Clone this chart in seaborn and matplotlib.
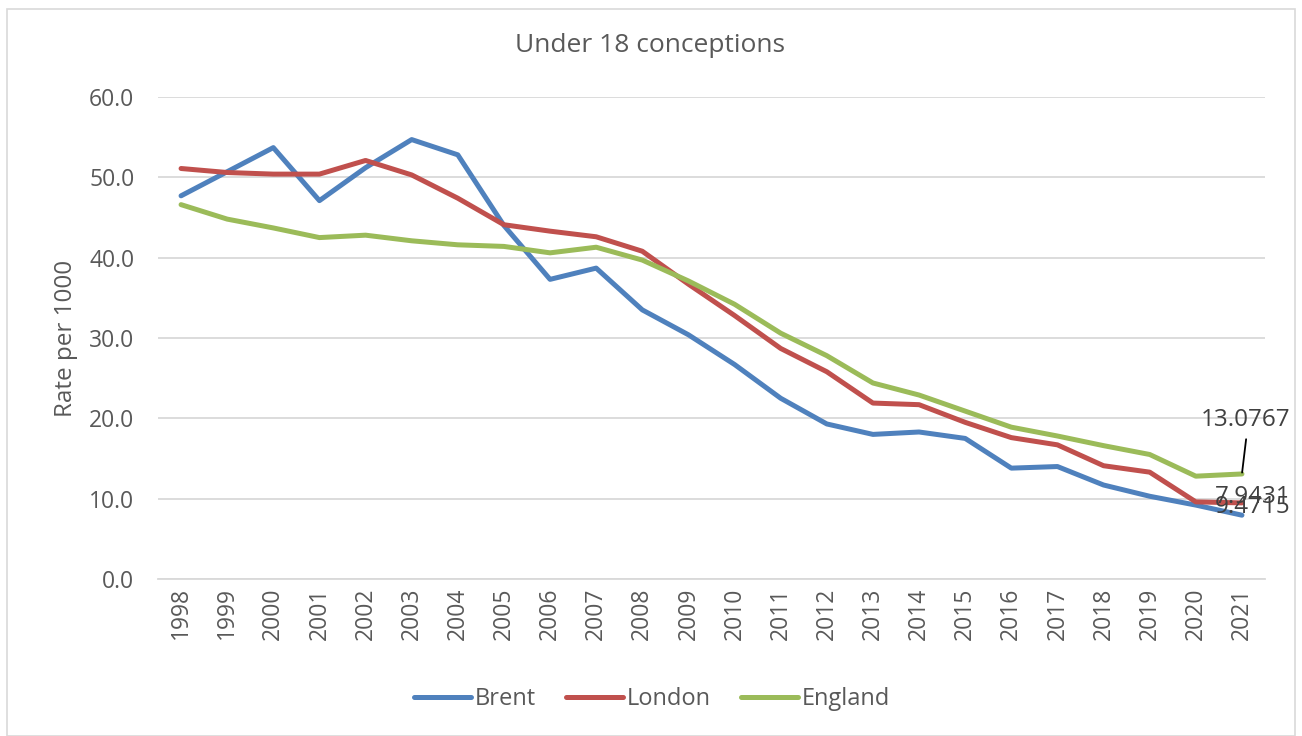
import matplotlib
matplotlib.use("Agg")
import matplotlib.pyplot as plt
from matplotlib.patches import Rectangle
import seaborn as sns
import pandas as pd

years = list(range(1998, 2022))
brent = [47.7, 50.7, 53.7, 47.1, 51.2, 54.7, 52.8, 44.0, 37.3, 38.7, 33.5, 30.4,
         26.7, 22.5, 19.3, 18.0, 18.3, 17.5, 13.8, 14.0, 11.7, 10.3, 9.2, 7.9431]
london = [51.1, 50.6, 50.4, 50.4, 52.1, 50.3, 47.4, 44.1, 43.3, 42.6, 40.8, 36.7,
          32.8, 28.7, 25.8, 21.9, 21.7, 19.5, 17.6, 16.7, 14.1, 13.3, 9.6, 9.4715]
england = [46.6, 44.8, 43.7, 42.5, 42.8, 42.1, 41.6, 41.4, 40.6, 41.3, 39.7, 37.1,
           34.2, 30.6, 27.8, 24.4, 22.9, 20.9, 18.9, 17.8, 16.6, 15.5, 12.8, 13.0767]
series_names = ["Brent", "London", "England"]
colors = ["#4F81BD", "#C0504D", "#9BBB59"]

rows = []
for name, vals in zip(series_names, [brent, london, england]):
    for i, (y, v) in enumerate(zip(years, vals)):
        rows.append({"idx": i, "year": str(y), "value": v, "Area": name})
df = pd.DataFrame(rows)

sns.set_style("white")
plt.rcParams['font.family'] = ['Open Sans', 'DejaVu Sans']
txt = "#595959"

fig = plt.figure(figsize=(13.02, 7.36), dpi=100)
ax = fig.add_axes([158/1302, 1 - 579/736, (1265 - 158)/1302, (579 - 97)/736])

sns.lineplot(data=df, x="idx", y="value", hue="Area", palette=colors,
             hue_order=series_names, linewidth=3.6, ax=ax, legend=False,
             solid_capstyle="round")

ax.set_xlim(-0.5, len(years) - 0.5)
ax.set_ylim(0, 60)
ax.set_yticks(range(0, 61, 10))
ax.set_yticklabels([f"{v:.1f}" for v in range(0, 61, 10)], fontsize=16.5, color=txt)
ax.set_xticks(range(len(years)))
ax.set_xticklabels([str(y) for y in years], rotation=90, fontsize=16.5, color=txt)
ax.tick_params(axis="y", length=0, pad=17)
ax.tick_params(axis="x", length=0, pad=6)
ax.grid(axis="y", color="#D9D9D9", linewidth=1.3)
ax.set_axisbelow(True)
for s in ["top", "right", "left"]:
    ax.spines[s].set_visible(False)
ax.spines["bottom"].set_color("#D9D9D9")
ax.spines["bottom"].set_linewidth(1.3)
ax.set_xlabel("")
ax.set_ylabel("Rate per 1000", fontsize=17.5, color=txt, labelpad=8)

fig.text(650/1302, 1 - 45/736, "Under 18 conceptions", ha="center", va="center",
         fontsize=19, color=txt)

last = len(years) - 1
# leader line for the England label
ax.annotate("", xy=(last, england[-1]), xytext=(3, 25),
            textcoords="offset points",
            arrowprops=dict(arrowstyle="-", color="black", lw=1.3,
                            shrinkA=0, shrinkB=1))
ax.annotate(f"{england[-1]:.4f}", xy=(last, england[-1]), xytext=(3, 39),
            textcoords="offset points", ha="center", va="center",
            fontsize=17.5, color="#404040")
ax.annotate(f"{brent[-1]:.4f}", xy=(last, brent[-1]), xytext=(8, 13),
            textcoords="offset points", ha="center", va="center",
            fontsize=17.5, color="#404040")
ax.annotate(f"{london[-1]:.4f}", xy=(last, london[-1]), xytext=(8, -3),
            textcoords="offset points", ha="center", va="center",
            fontsize=17.5, color="#404040")

handles = [plt.Line2D([0], [0], color=c, lw=3.6, solid_capstyle="round") for c in colors]
leg = fig.legend(handles, series_names, loc="center", bbox_to_anchor=(652/1302, 1 - 699/736),
                 ncol=3, frameon=False, fontsize=17, handlelength=2.4,
                 handletextpad=0.15, columnspacing=1.3)
for t in leg.get_texts():
    t.set_color(txt)

fig.patches.append(Rectangle((7/1302, 0), (1295 - 7)/1302, 1 - 9/736,
                             transform=fig.transFigure, fill=False,
                             edgecolor="#D9D9D9", linewidth=1.2))

fig.savefig("out.png", dpi=100, facecolor="white")
